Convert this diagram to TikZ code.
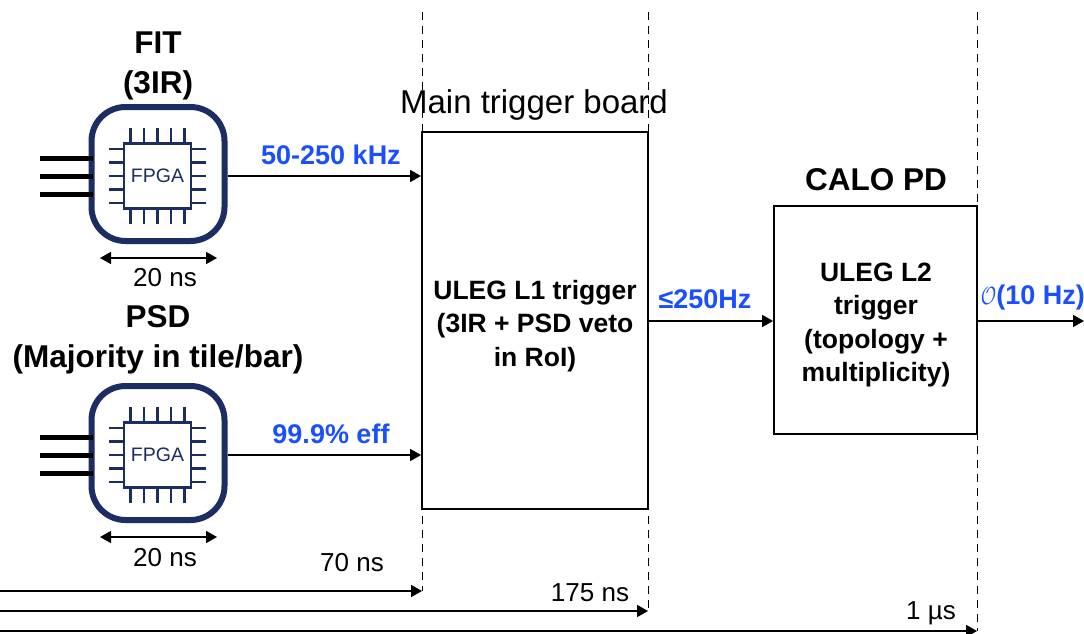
\documentclass[tikz,border=0pt]{standalone}
\usepackage{fontspec}
\setmainfont{Liberation Sans}
\usetikzlibrary{arrows.meta,shadows}
\definecolor{chipNavy}{HTML}{1C2D63}
\definecolor{rateBlue}{HTML}{1A4FFF}
\begin{document}
\begin{tikzpicture}[x=1pt,y=-1pt,
    >={Triangle[length=11pt,width=12pt]},
    boxLabel/.style={font=\fontsize{26.5}{33.5}\selectfont\bfseries,align=center,inner sep=0pt},
    plainLabel/.style={font=\fontsize{26}{30}\selectfont,inner sep=0pt},
    headLabel/.style={font=\fontsize{31.5}{39.5}\selectfont\bfseries,align=center,inner sep=0pt},
    rateLabel/.style={font=\fontsize{27}{30}\selectfont\bfseries,text=rateBlue,inner sep=0pt},
    triggerBox/.style={draw,line width=1.8pt,inner sep=0pt,fill=white},
    signalArrow/.style={->,line width=1.6pt},
    timeArrow/.style={->,line width=1.6pt},
    latencyMark/.style={dashed,line width=0.8pt,dash pattern=on 8pt off 6pt},
    chipBody/.style={draw=chipNavy,fill=white,line width=6pt,rounded corners=34pt,
        minimum width=133pt,minimum height=134pt,inner sep=0pt,
        drop shadow={shadow xshift=1pt,shadow yshift=-3pt,opacity=0.25}},
    chipCore/.style={draw=chipNavy,line width=2.8pt,minimum width=67pt,minimum height=65pt,inner sep=0pt,
        text=chipNavy,font=\fontsize{19.5}{22}\selectfont},
    chipPin/.style={draw=chipNavy,line width=2.5pt},
    inputLine/.style={line width=5pt},
]
\useasboundingbox (0,0) rectangle (1084,634);
% Latency markers
\coordinate (topL1) at (422,12);
\coordinate (topBoard) at (648,12);
\coordinate (topL2) at (977,12);
\coordinate (startL1) at (0,591);
\coordinate (startBoard) at (0,611);
\coordinate (startL2) at (0,631);
\coordinate (endL1) at (422,591);
\coordinate (endBoard) at (648,611);
\coordinate (endL2) at (977,631);
\coordinate (outEnd) at (1084,321);
\draw[latencyMark] (topL1) -- (endL1);
\draw[latencyMark] (topBoard) -- (endBoard);
\draw[latencyMark] (topL2) -- (endL2);
% Trigger boards
\node[triggerBox,minimum width=226pt,minimum height=377pt] (mainBoard) at (535,320.5) {};
\node[triggerBox,minimum width=203pt,minimum height=228pt] (caloBoard) at (875.5,320) {};
\node[boxLabel] (mainText) at (535,326) {ULEG L1 trigger\\(3IR + PSD veto\\in RoI)};
\node[boxLabel] (caloText) at (876,325) {ULEG L2\\trigger\\(topology +\\multiplicity)};
% FPGA chips
\foreach \chipName/\chipY in {fitChip/176,psdChip/455} {
    \node[chipBody] (\chipName) at (158,\chipY-2) {};
    \node[chipCore] (\chipName Core) at (157.5,\chipY) {FPGA};
    \begin{scope}[shift={(157.5,\chipY)}]
        \foreach \pinPos in {-27,-13.5,0,13.5,27} {
            \draw[chipPin] (\pinPos,-33) -- (\pinPos,-48);
            \draw[chipPin] (\pinPos,33) -- (\pinPos,48);
            \draw[chipPin] (-34,\pinPos) -- (-49,\pinPos);
            \draw[chipPin] (34,\pinPos) -- (48,\pinPos);
        }
    \end{scope}
    \foreach \lineShift in {-18,0,18} {
        \draw[inputLine] ([xshift=4pt,yshift=\lineShift pt]\chipName.west |- \chipName Core) -- ++(-53,0);
    }
    \draw[signalArrow] (\chipName.east |- \chipName Core) -- (mainBoard.west |- \chipName Core);
    \coordinate (\chipName Left) at (100,\chipY+82);
    \coordinate (\chipName Right) at (217,\chipY+82);
    \draw[<->,line width=1.6pt] (\chipName Left) -- (\chipName Right);
}
% Signal flow
\draw[signalArrow] (mainBoard.east |- outEnd) -- (caloBoard.west |- outEnd);
\draw[signalArrow] (caloBoard.east |- outEnd) -- (outEnd);
\draw[timeArrow] (startL1) -- (endL1);
\draw[timeArrow] (startBoard) -- (endBoard);
\draw[timeArrow] (startL2) -- (endL2);
% Labels
\node[headLabel] (fitTitle) at (158,66) {FIT\\(3IR)};
\node[headLabel] (psdTitle) at (158,340) {PSD\\(Majority in tile/bar)};
\node[font=\fontsize{33}{38}\selectfont,inner sep=0pt] (mainTitle) at (534,105) {Main trigger board};
\node[headLabel] (caloTitle) at (876,180) {CALO PD};
\node[plainLabel] (fitWidth) at (165,278) {20 ns};
\node[plainLabel] (psdWidth) at (165,558) {20 ns};
\node[plainLabel] (timeL1) at (352,563) {70 ns};
\node[plainLabel] (timeBoard) at (590,593) {175 ns};
\node[plainLabel] (timeL2) at (931,613) {1 µs};
\node[rateLabel] (fitRate) at (331,155) {50-250 kHz};
\node[rateLabel] (psdRate) at (331,434) {99.9\% eff};
\node[rateLabel] (l1Rate) at (705,299) {≤250Hz};
\node[rateLabel,anchor=east] (l2Rate) at (1085,298) {\scalebox{0.75}[1]{$\mathcal{O}$}(10 Hz)};
\end{tikzpicture}
\end{document}
